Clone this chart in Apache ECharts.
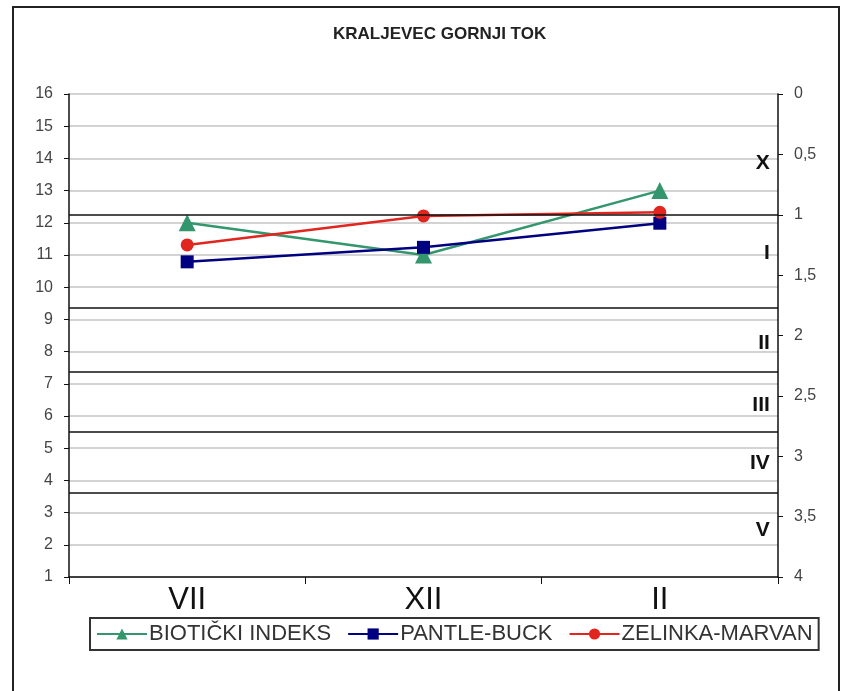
<!DOCTYPE html>
<html>
<head>
<meta charset="utf-8">
<script src="https://cdn.jsdelivr.net/npm/echarts@6/dist/echarts.min.js"></script>
<style>
  html, body { margin: 0; padding: 0; background: #fff; }
  #chart { width: 847px; height: 691px; }
</style>
</head>
<body>
<div id="chart"></div>
<script>
// Sampling months
const months = ['VII', 'XII', 'II'];
// Biotic index (left axis)
const bioticki = [12, 11, 13];
// Saprobic indices (right, inverted axis)
const pantleBuck = [1.39, 1.27, 1.07];
const zelinkaMarvan = [1.25, 1.01, 0.98];
// Water quality class limits and class labels on the saprobic scale
const classLimits = [1.0, 1.77, 2.3, 2.8, 3.3];
const classNames = ['X', 'I', 'II', 'III', 'IV', 'V'];
const classCentres = [0.57, 1.32, 2.06, 2.58, 3.06, 3.61];

const FONT = '"Liberation Sans", Arial, sans-serif';
const chart = echarts.init(document.getElementById('chart'), null, { renderer: 'canvas' });

chart.setOption({
  animation: false,
  backgroundColor: '#fff',
  title: {
    text: 'KRALJEVEC GORNJI TOK',
    left: 333,
    top: 26,
    padding: 0,
    textStyle: { fontFamily: FONT, fontWeight: 'bold', fontSize: 17, color: '#222' }
  },
  grid: { left: 69, right: 69, top: 94, bottom: 114, containLabel: false },
  legend: {
    data: ['BIOTIČKI INDEKS', 'PANTLE-BUCK', 'ZELINKA-MARVAN'],
    top: 618,
    left: 90,
    itemWidth: 50,
    itemHeight: 14,
    itemGap: 16,
    padding: [5, 6],
    borderColor: '#333',
    borderWidth: 2,
    textStyle: { fontFamily: FONT, fontSize: 22, color: '#333', padding: [0, 0, 0, -3] }
  },
  xAxis: {
    type: 'category',
    data: months,
    boundaryGap: true,
    axisLine: { onZero: false, lineStyle: { color: '#111', width: 1.5 } },
    axisTick: { show: true, length: 7, lineStyle: { color: '#111' } },
    axisLabel: { fontFamily: FONT, fontSize: 31, color: '#111', margin: 8 }
  },
  yAxis: [
    {
      type: 'value',
      min: 1, max: 16, interval: 1,
      axisLine: { show: true, lineStyle: { color: '#111', width: 1.5 } },
      axisTick: { show: true, length: 5, lineStyle: { color: '#111' } },
      splitLine: { lineStyle: { color: '#c4c4c4', width: 1.5 } },
      axisLabel: { fontFamily: FONT, fontSize: 16, color: '#444', margin: 16 }
    },
    {
      type: 'value',
      inverse: true,
      min: 0, max: 4, interval: 0.5,
      position: 'right',
      axisLine: { show: true, lineStyle: { color: '#111', width: 1.5 } },
      axisTick: { show: true, length: 5, lineStyle: { color: '#111' } },
      splitLine: { show: false },
      axisLabel: {
        fontFamily: FONT, fontSize: 16, color: '#444', margin: 16,
        formatter: v => String(v).replace('.', ',')
      }
    }
  ],
  series: [
    {
      name: 'class-limits',
      type: 'line',
      yAxisIndex: 1,
      data: [],
      silent: true,
      markLine: {
        silent: true,
        symbol: 'none',
        label: { show: false },
        lineStyle: { color: '#111', width: 1.5, type: 'solid' },
        data: classLimits.map(v => ({ yAxis: v }))
      }
    },
    {
      name: 'BIOTIČKI INDEKS',
      type: 'line',
      data: bioticki,
      symbol: 'triangle',
      symbolSize: 17,
      color: '#33966c',
      lineStyle: { width: 2.5 }
    },
    {
      name: 'PANTLE-BUCK',
      type: 'line',
      yAxisIndex: 1,
      data: pantleBuck,
      symbol: 'rect',
      symbolSize: 13,
      color: '#000080',
      lineStyle: { width: 2.5 }
    },
    {
      name: 'ZELINKA-MARVAN',
      type: 'line',
      yAxisIndex: 1,
      data: zelinkaMarvan,
      symbol: 'circle',
      symbolSize: 13,
      color: '#e0261f',
      lineStyle: { width: 2.5 }
    }
  ]
});

// Class numerals next to the right axis, placed through the saprobic scale
const rightEdge = chart.convertToPixel({ xAxisIndex: 0 }, months[months.length - 1]) + 110;
const graphics = [
  {
    type: 'rect',
    shape: { x: 13, y: 7, width: 826, height: 700 },
    style: { fill: 'none', stroke: '#222', lineWidth: 2 },
    silent: true
  }
];
classNames.forEach((name, i) => {
  graphics.push({
    type: 'text',
    x: rightEdge,
    y: chart.convertToPixel({ yAxisIndex: 1 }, classCentres[i]),
    style: {
      text: name,
      align: 'right',
      verticalAlign: 'middle',
      fontFamily: FONT,
      fontWeight: 'bold',
      fontSize: 21,
      fill: '#111'
    },
    silent: true
  });
});
chart.setOption({ graphic: graphics });
</script>
</body>
</html>
